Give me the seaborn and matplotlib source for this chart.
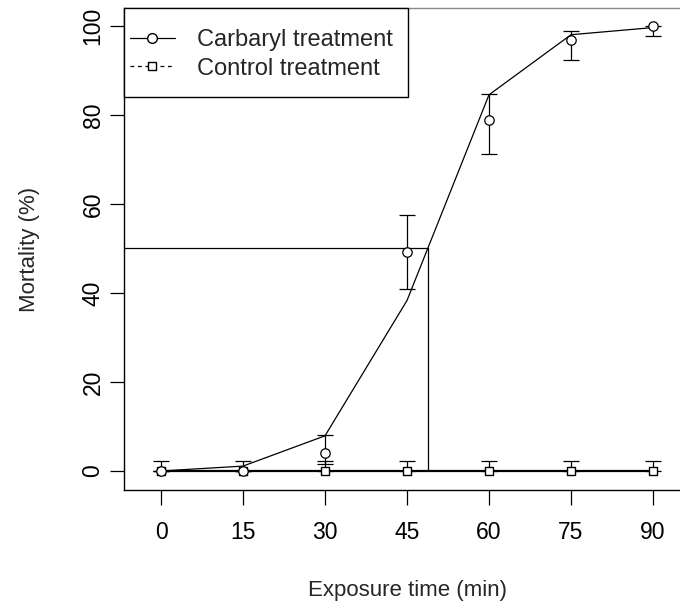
import matplotlib
matplotlib.use("Agg")
import matplotlib.pyplot as plt
from matplotlib.lines import Line2D
from matplotlib.patches import Rectangle
import numpy as np
import pandas as pd
import seaborn as sns

# ---- data ----
times = [0, 15, 30, 45, 60, 75, 90]
carb_mean = [0.0, 0.0, 4.0, 49.1, 78.8, 96.7, 100.0]
carb_lower = [0.0, 0.0, 1.5, 40.9, 71.2, 92.4, 97.7]
carb_upper = [0.0, 0.0, 8.1, 57.6, 84.7, 98.8, 100.0]
carb_fit = [0.0, 1.1, 7.9, 38.3, 84.5, 98.0, 99.6]
ctrl_mean = [0.0, 0.0, 0.0, 0.0, 0.0, 0.0, 0.0]
ctrl_upper = [2.3, 2.3, 2.3, 2.3, 2.3, 2.3, 2.3]
lt50_time = 48.8
lt50_level = 50
xticks = [0, 15, 30, 45, 60, 75, 90]
yticks = [0, 20, 40, 60, 80, 100]
series_labels = ["Carbaryl treatment", "Control treatment"]

sns.set_style("ticks")
plt.rcParams["font.family"] = ["Liberation Sans", "DejaVu Sans"]

W, H = 680, 609
fig = plt.figure(figsize=(W / 100, H / 100), dpi=100)
left_px, right_px, top_px, bottom_px = 124, 690, 8, 490
ax = fig.add_axes([left_px / W, 1 - bottom_px / H,
                   (right_px - left_px) / W, (bottom_px - top_px) / H])

df = pd.DataFrame({"time": times, "carb_mean": carb_mean, "carb_fit": carb_fit,
                   "ctrl": ctrl_mean})

lw = 0.9
# fitted carbaryl curve
sns.lineplot(data=df, x="time", y="carb_fit", ax=ax, color="black", lw=lw,
             legend=False, zorder=3)
# control line
sns.lineplot(data=df, x="time", y="ctrl", ax=ax, color="black", lw=1.6,
             legend=False, zorder=3)

# error bars
carb_err = [np.array(carb_mean) - np.array(carb_lower),
            np.array(carb_upper) - np.array(carb_mean)]
ax.errorbar(times, carb_mean, yerr=carb_err, fmt="none", ecolor="black",
            elinewidth=lw, capsize=5.8, capthick=lw, zorder=2)
ctrl_err = [np.zeros(len(times)), np.array(ctrl_upper) - np.array(ctrl_mean)]
ax.errorbar(times, ctrl_mean, yerr=ctrl_err, fmt="none", ecolor="black",
            elinewidth=lw, capsize=5.8, capthick=lw, zorder=2)

# markers
sns.scatterplot(x=times, y=ctrl_mean, ax=ax, marker="s", s=30,
                facecolor="white", edgecolor="black", linewidth=1.0, zorder=4)
sns.scatterplot(x=times, y=carb_mean, ax=ax, marker="o", s=46,
                facecolor="white", edgecolor="black", linewidth=0.9, zorder=5)

# LT50 guide lines
xlo, xhi = -6.77, 96.77
ax.plot([xlo, lt50_time], [lt50_level, lt50_level], color="black", lw=lw, zorder=3)
ax.plot([lt50_time, lt50_time], [lt50_level, 0], color="black", lw=lw, zorder=3)

ax.set_xlim(xlo, xhi)
ax.set_ylim(-4.27, 104.0)
ax.set_xticks(xticks)
ax.set_yticks(yticks)
ax.set_xticklabels([str(t) for t in xticks], fontsize=16.5)
ax.set_yticklabels([str(t) for t in yticks], fontsize=16.5, rotation=90, va="center")
ax.tick_params(axis="x", length=11, width=0.9, pad=11, colors="black")
ax.tick_params(axis="y", length=10, width=0.9, pad=4, colors="black")
for s in ax.spines.values():
    s.set_visible(True)
    s.set_color("black")
    s.set_linewidth(1.0)
ax.spines["top"].set_color("#888888")

ax.set_xlabel("Exposure time (min)", fontsize=16, labelpad=26)
ax.set_ylabel("Mortality (%)", fontsize=16, labelpad=30)

# legend frame (R-style box)
def px2ax(xp, yp):
    return ((xp - left_px) / (right_px - left_px), (bottom_px - yp) / (bottom_px - top_px))

x0, y0 = px2ax(124, 97)
x1, y1 = px2ax(408, 8)
ax.add_patch(Rectangle((x0, y0), x1 - x0, y1 - y0, transform=ax.transAxes,
                       facecolor="white", edgecolor="black", lw=1.0, zorder=6,
                       clip_on=False))

handles = [
    Line2D([], [], color="black", lw=lw, marker="o", markersize=7,
           markerfacecolor="white", markeredgecolor="black", linestyle="-"),
    Line2D([], [], color="black", lw=lw, marker="s", markersize=6,
           markerfacecolor="white", markeredgecolor="black", linestyle=(0, (3, 3))),
]
lx, ly = px2ax(130, 29)
leg = ax.legend(handles, series_labels, loc="upper left", bbox_to_anchor=(lx, ly),
                borderaxespad=0, borderpad=0, fontsize=17, frameon=False,
                handlelength=1.9, handletextpad=0.95, labelspacing=0.28)
leg.set_zorder(7)

fig.savefig("out.png", dpi=100)
